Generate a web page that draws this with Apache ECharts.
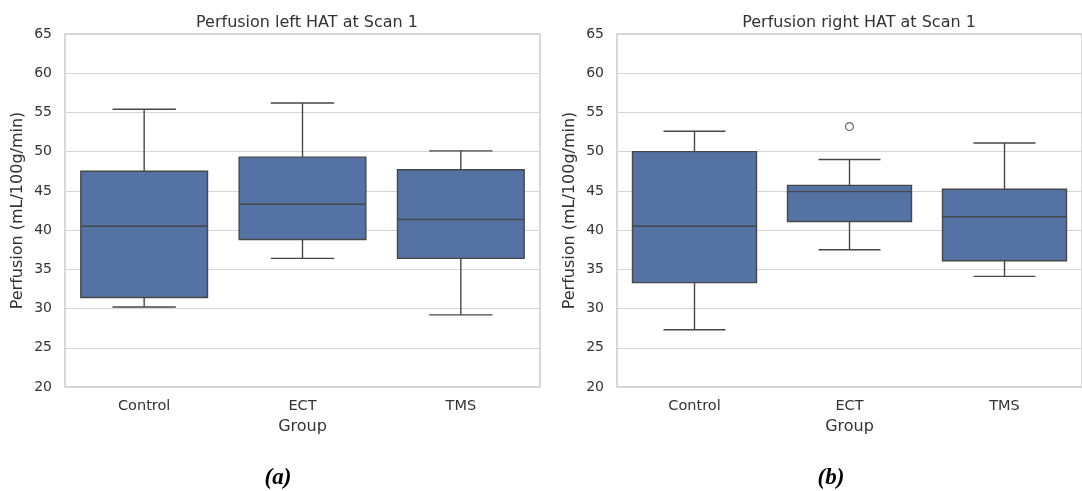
<!DOCTYPE html>
<html>
<head>
<meta charset="utf-8">
<script src="https://cdn.jsdelivr.net/npm/echarts@6/dist/echarts.min.js"></script>
<style>
html,body{margin:0;padding:0;background:#fff;}
#chart{width:1082px;height:491px;}
</style>
</head>
<body>
<div id="chart"></div>
<script>
const categories = ['Control', 'ECT', 'TMS'];
// [min whisker, Q1, median, Q3, max whisker]
const leftBoxes = [
  [30.2, 31.4, 40.5, 47.5, 55.4],
  [36.4, 38.8, 43.3, 49.3, 56.2],
  [29.2, 36.4, 41.35, 47.7, 50.1]
];
const rightBoxes = [
  [27.3, 33.3, 40.5, 50.0, 52.6],
  [37.5, 41.1, 44.9, 45.7, 49.0],
  [34.1, 36.1, 41.7, 45.2, 51.1]
];
const rightOutliers = [['ECT', 53.2]];
const yTicks = [20, 25, 30, 35, 40, 45, 50, 55, 60, 65];
const titles = ['Perfusion left HAT at Scan 1', 'Perfusion right HAT at Scan 1'];
const captions = ['(a)', '(b)'];

const FONT = 'DejaVu Sans';
const TXT = '#333333';
const GRIDC = '#d5d5d5';
const FILL = '#5572a4';
const LINE = '#474747';

const grids = [
  {left: 65, top: 34, width: 475, height: 353},
  {left: 617, top: 34, width: 477, height: 353}
];

function xAxis(i) {
  return {
    type: 'category', gridIndex: i, data: categories,
    name: 'Group', nameLocation: 'middle', nameGap: 32,
    nameTextStyle: {fontFamily: FONT, fontSize: 16, color: TXT},
    axisLine: {show: false}, axisTick: {show: false},
    axisLabel: {fontFamily: FONT, fontSize: 14.5, color: TXT, margin: 12},
    splitLine: {show: false}
  };
}
function yAxis(i) {
  return {
    type: 'value', gridIndex: i, min: yTicks[0], max: yTicks[yTicks.length - 1], interval: 5,
    name: 'Perfusion (mL/100g/min)', nameLocation: 'middle', nameGap: 39,
    nameTextStyle: {fontFamily: FONT, fontSize: 16, color: TXT},
    axisLine: {show: false}, axisTick: {show: false},
    axisLabel: {fontFamily: FONT, fontSize: 14, color: TXT, margin: 13},
    splitLine: {show: true, lineStyle: {color: GRIDC, width: 1.2}}
  };
}
function renderBox(params, api) {
  const c = api.value(0);
  const mn = api.coord([c, api.value(1)]);
  const q1 = api.coord([c, api.value(2)]);
  const md = api.coord([c, api.value(3)]);
  const q3 = api.coord([c, api.value(4)]);
  const mx = api.coord([c, api.value(5)]);
  const band = api.size([1, 0])[0];
  const hw = band * 0.4;
  const cw = hw / 2;
  const x = mn[0];
  const ls = {stroke: LINE, lineWidth: 1.4};
  return {
    type: 'group',
    children: [
      {type: 'line', shape: {x1: x, y1: q3[1], x2: x, y2: mx[1]}, style: ls},
      {type: 'line', shape: {x1: x, y1: q1[1], x2: x, y2: mn[1]}, style: ls},
      {type: 'line', shape: {x1: x - cw, y1: mx[1], x2: x + cw, y2: mx[1]}, style: ls},
      {type: 'line', shape: {x1: x - cw, y1: mn[1], x2: x + cw, y2: mn[1]}, style: ls},
      {type: 'rect', shape: {x: x - hw, y: q3[1], width: 2 * hw, height: q1[1] - q3[1]},
       style: {fill: FILL, stroke: LINE, lineWidth: 1.4}},
      {type: 'line', shape: {x1: x - hw, y1: md[1], x2: x + hw, y2: md[1]}, style: ls}
    ]
  };
}
function box(i, data) {
  return {
    type: 'custom', xAxisIndex: i, yAxisIndex: i,
    data: data.map((d, k) => [k].concat(d)),
    encode: {x: 0, y: [1, 2, 3, 4, 5]},
    renderItem: renderBox,
    emphasis: {disabled: true}
  };
}

const chart = echarts.init(document.getElementById('chart'), null, {renderer: 'canvas'});
chart.setOption({
  animation: false,
  backgroundColor: '#ffffff',
  title: [
    {text: titles[0], left: 302, top: 10, textAlign: 'center',
     textStyle: {fontFamily: FONT, fontSize: 16, fontWeight: 'normal', color: TXT}},
    {text: titles[1], left: 854, top: 10, textAlign: 'center',
     textStyle: {fontFamily: FONT, fontSize: 16, fontWeight: 'normal', color: TXT}},
    {text: captions[0], left: 273, top: 462, textAlign: 'center',
     textStyle: {fontFamily: 'Liberation Serif', fontSize: 23, fontWeight: 'bold', fontStyle: 'italic', color: '#000'}},
    {text: captions[1], left: 826, top: 462, textAlign: 'center',
     textStyle: {fontFamily: 'Liberation Serif', fontSize: 23, fontWeight: 'bold', fontStyle: 'italic', color: '#000'}}
  ],
  grid: grids.map(g => Object.assign({show: true, borderColor: '#cccccc', borderWidth: 1.5, backgroundColor: 'transparent'}, g)),
  xAxis: [xAxis(0), xAxis(1)],
  yAxis: [yAxis(0), yAxis(1)],
  series: [
    box(0, leftBoxes),
    box(1, rightBoxes),
    {
      type: 'scatter', xAxisIndex: 1, yAxisIndex: 1, data: rightOutliers,
      symbol: 'circle', symbolSize: 8,
      itemStyle: {color: 'transparent', borderColor: LINE, borderWidth: 1.2},
      emphasis: {disabled: true}
    }
  ]
});
</script>
</body>
</html>
